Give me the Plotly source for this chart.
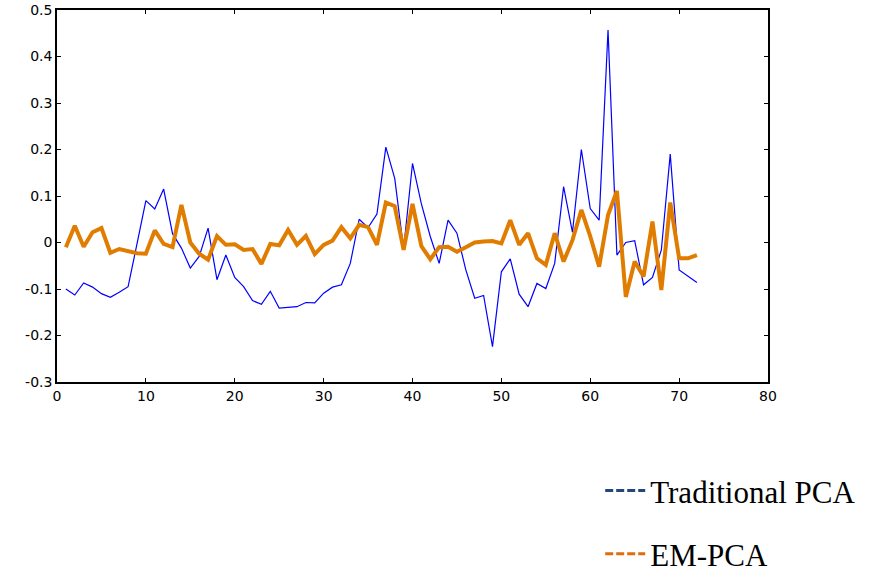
import plotly.graph_objects as go

x_idx = list(range(1, 73))

traditional_pca = [
    -0.100, -0.113, -0.087, -0.096, -0.110, -0.118, -0.107, -0.095, -0.003, 0.090,
    0.072, 0.115, 0.019, -0.012, -0.055, -0.030, 0.031, -0.080, -0.027, -0.075,
    -0.095, -0.125, -0.133, -0.105, -0.141, -0.140, -0.138, -0.129, -0.130, -0.109,
    -0.096, -0.091, -0.045, 0.050, 0.032, 0.061, 0.205, 0.138, -0.014, 0.170,
    0.083, 0.013, -0.045, 0.048, 0.020, -0.059, -0.120, -0.114, -0.224, -0.063,
    -0.035, -0.111, -0.138, -0.088, -0.099, -0.045, 0.120, 0.022, 0.200, 0.073,
    0.048, 0.457, -0.027, 0.000, 0.004, -0.091, -0.075, -0.016, 0.190, -0.059,
    -0.072, -0.086,
]

em_pca = [
    -0.010, 0.036, -0.009, 0.022, 0.031, -0.022, -0.014, -0.018, -0.023, -0.024,
    0.026, -0.003, -0.010, 0.081, 0.000, -0.024, -0.037, 0.014, -0.005, -0.004,
    -0.016, -0.014, -0.046, -0.003, -0.006, 0.027, -0.005, 0.014, -0.025, -0.005,
    0.004, 0.033, 0.009, 0.038, 0.033, -0.005, 0.086, 0.078, -0.016, 0.083,
    -0.008, -0.036, -0.010, -0.009, -0.020, -0.010, 0.000, 0.002, 0.003, -0.002,
    0.048, -0.005, 0.020, -0.034, -0.048, 0.020, -0.041, 0.005, 0.070, 0.013,
    -0.052, 0.059, 0.111, -0.117, -0.041, -0.073, 0.045, -0.102, 0.086, -0.034,
    -0.034, -0.027,
]

x_ticks = [0, 10, 20, 30, 40, 50, 60, 70, 80]
y_ticks = [-0.3, -0.2, -0.1, 0, 0.1, 0.2, 0.3, 0.4, 0.5]
y_tick_labels = ["-0.3", "-0.2", "-0.1", "0", "0.1", "0.2", "0.3", "0.4", "0.5"]
legend_names = ["Traditional PCA", "EM-PCA"]

fig = go.Figure()
fig.add_trace(go.Scatter(x=x_idx, y=traditional_pca, mode="lines",
                         line=dict(color="#0000FF", width=1.2), showlegend=False))
fig.add_trace(go.Scatter(x=x_idx, y=em_pca, mode="lines",
                         line=dict(color="#E07C00", width=4), showlegend=False))
# legend entries (dashed samples as in the reference)
fig.add_trace(go.Scatter(x=[None], y=[None], mode="lines", name=legend_names[0],
                         legendgroup="a",
                         line=dict(color="#24467F", width=3, dash="8px,3px")))
fig.add_trace(go.Scatter(x=[None], y=[None], mode="lines", name=legend_names[1],
                         legendgroup="b",
                         line=dict(color="#E36C0A", width=3, dash="8px,3px")))

axis_common = dict(showline=True, linecolor="black", linewidth=1.5, mirror="ticks",
                   ticks="inside", ticklen=4, tickcolor="black", showgrid=False,
                   zeroline=False, ticklabeloverflow="allow",
                   tickfont=dict(family="DejaVu Sans, Verdana", size=14, color="black"))

fig.update_xaxes(range=[0, 80], tickvals=x_ticks, **axis_common)
fig.update_yaxes(range=[-0.3, 0.5], tickvals=y_ticks, ticktext=y_tick_labels, **axis_common)

fig.update_layout(
    width=869, height=573,
    margin=dict(l=57, r=101, t=10, b=191, autoexpand=False),
    paper_bgcolor="white", plot_bgcolor="white",
    legend=dict(x=0.764, y=-0.22, xanchor="left", yanchor="top",
                font=dict(family="Liberation Serif, Times New Roman", size=31, color="black"),
                tracegroupgap=20, itemwidth=40, bgcolor="rgba(0,0,0,0)"),
)

fig.write_html("out.html", config={"displayModeBar": False},
               post_script="document.body.style.margin='0';")
